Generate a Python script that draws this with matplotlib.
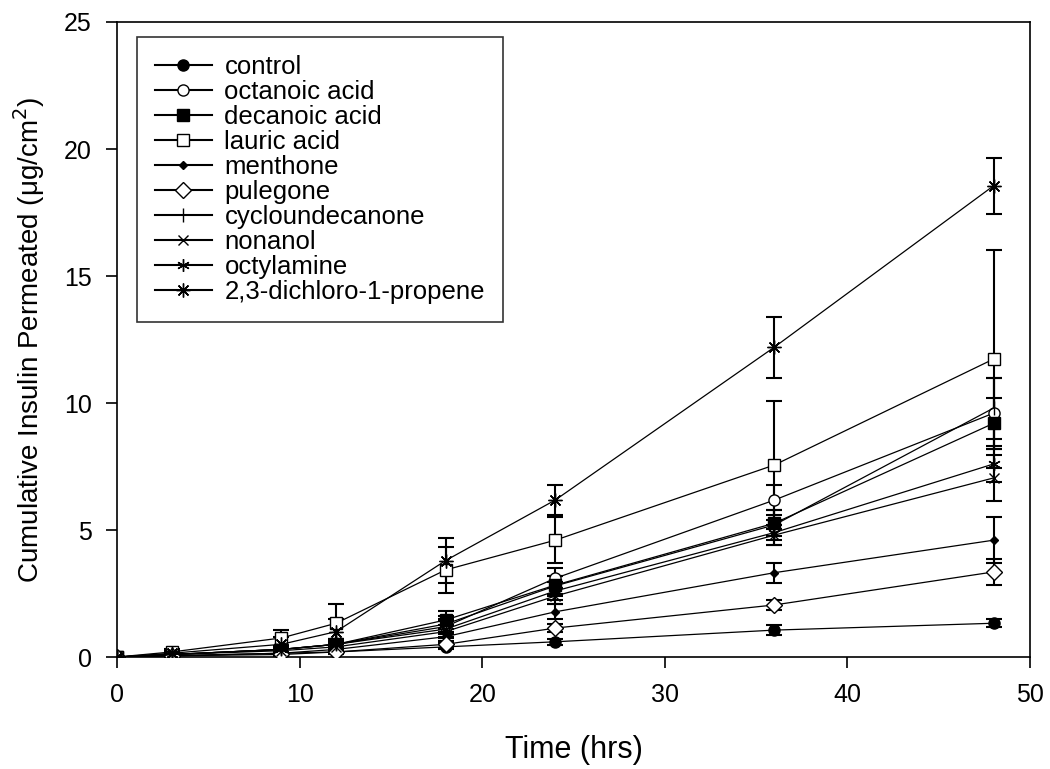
import matplotlib
matplotlib.use("Agg")
import matplotlib.pyplot as plt

plt.rcParams['font.family'] = ['Liberation Sans', 'DejaVu Sans']

# time points (hrs)
time = [0, 3, 9, 12, 18, 24, 36, 48]

# cumulative insulin permeated (ug/cm2)
control = [0, 0.05, 0.15, 0.2, 0.4, 0.6, 1.06, 1.33]
control_err = [0, 0.03, 0.05, 0.08, 0.1, 0.12, 0.2, 0.15]
octanoic = [0, 0.1, 0.3, 0.5, 1.2, 3.1, 6.18, 9.6]
octanoic_err = [0, 0.05, 0.1, 0.15, 0.3, 0.4, 0.6, 1.4]
decanoic = [0, 0.1, 0.3, 0.5, 1.46, 2.83, 5.27, 9.2]
decanoic_err = [0, 0.05, 0.1, 0.2, 0.35, 0.35, 0.5, 1.0]
lauric = [0, 0.2, 0.75, 1.33, 3.43, 4.6, 7.56, 11.73]
lauric_err = [0, 0.1, 0.3, 0.75, 0.9, 0.9, 2.5, 4.3]
menthone = [0, 0.05, 0.15, 0.3, 0.8, 1.78, 3.32, 4.6]
menthone_err = [0, 0.03, 0.05, 0.1, 0.2, 0.3, 0.4, 0.9]
pulegone = [0, 0.05, 0.1, 0.2, 0.5, 1.14, 2.05, 3.35]
pulegone_err = [0, 0.03, 0.05, 0.1, 0.15, 0.15, 0.2, 0.5]
cyclo = [0, 0.1, 0.3, 0.5, 1.3, 2.8, 5.2, 9.8]
cyclo_err = [0, 0.05, 0.1, 0.2, 0.3, 0.4, 0.6, 1.2]
nonanol = [0, 0.1, 0.25, 0.4, 1.0, 2.4, 4.8, 7.05]
nonanol_err = [0, 0.05, 0.1, 0.15, 0.25, 0.3, 0.4, 0.9]
octylamine = [0, 0.1, 0.3, 0.5, 1.1, 2.6, 4.9, 7.6]
octylamine_err = [0, 0.05, 0.1, 0.2, 0.3, 0.35, 0.5, 0.7]
dichloro = [0, 0.15, 0.5, 1.0, 3.8, 6.18, 12.2, 18.55]
dichloro_err = [0, 0.1, 0.3, 0.5, 0.9, 0.6, 1.2, 1.1]

series = [
    ("control", control, control_err, "o", "black", 8),
    ("octanoic acid", octanoic, octanoic_err, "o", "white", 8),
    ("decanoic acid", decanoic, decanoic_err, "s", "black", 8),
    ("lauric acid", lauric, lauric_err, "s", "white", 8),
    ("menthone", menthone, menthone_err, "D", "black", 4.5),
    ("pulegone", pulegone, pulegone_err, "D", "white", 8),
    ("cycloundecanone", cyclo, cyclo_err, "|", "black", 10),
    ("nonanol", nonanol, nonanol_err, "x", "black", 7),
    ("octylamine", octylamine, octylamine_err, (6, 2, 0), "black", 9),
    ("2,3-dichloro-1-propene", dichloro, dichloro_err, (8, 2, 0), "black", 10),
]

fig = plt.figure(figsize=(10.5, 7.69), dpi=100)
ax = fig.add_axes([0.1114, 0.1456, 0.8696, 0.8258])

for name, vals, err, mk, face, ms in series:
    ax.errorbar(time, vals, yerr=err, fmt="none", ecolor="black",
                elinewidth=1.5, capsize=6, capthick=1.5, zorder=2)
    ax.plot(time, vals, color="black", linewidth=0.9, marker=mk,
            markerfacecolor=face, markeredgecolor="black",
            markeredgewidth=1.0, markersize=ms, label=name, zorder=3)

ax.set_xlim(0, 50)
ax.set_ylim(0, 25)
ax.set_xticks([0, 10, 20, 30, 40, 50])
ax.set_yticks([0, 5, 10, 15, 20, 25])
ax.tick_params(direction="out", length=8, width=1.2, labelsize=18)
ax.tick_params(axis="x", pad=10.5)
ax.tick_params(axis="y", pad=10)
for sp in ax.spines.values():
    sp.set_linewidth(1.2)

ax.set_xlabel("Time (hrs)", fontsize=22, labelpad=20)
ax.set_ylabel("Cumulative Insulin Permeated (\u03bcg/cm$^2$)", fontsize=20, labelpad=12)

leg = ax.legend(loc="upper left", bbox_to_anchor=(0.022, 0.976), fontsize=18.5,
                frameon=True, fancybox=False, edgecolor="black",
                handlelength=2.2, labelspacing=0.04, borderpad=0.7,
                handletextpad=0.5, borderaxespad=0)
leg.get_frame().set_linewidth(1.2)
for h in leg.get_lines():
    h.set_linewidth(1.5)

fig.savefig("out.png", dpi=100)
